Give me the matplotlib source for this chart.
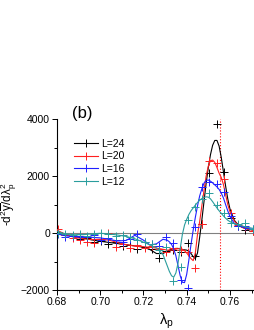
import numpy as np
import matplotlib
matplotlib.use('Agg')
import matplotlib.pyplot as plt
from matplotlib.ticker import MultipleLocator

plt.rcParams['font.family'] = ['Liberation Sans', 'DejaVu Sans']
plt.rcParams['mathtext.default'] = 'regular'

# smooth fitted curves
x_line = [0.680, 0.684, 0.688, 0.692, 0.696, 0.700, 0.704, 0.708, 0.712, 0.716,
          0.720, 0.723, 0.726, 0.729, 0.731, 0.732, 0.733, 0.734, 0.735, 0.736,
          0.737, 0.738, 0.739, 0.740, 0.741, 0.742, 0.743, 0.744, 0.745, 0.746,
          0.747, 0.748, 0.749, 0.750, 0.751, 0.752, 0.753, 0.754, 0.755, 0.756,
          0.757, 0.758, 0.759, 0.760, 0.762, 0.764, 0.766, 0.768, 0.771]
l24_line = [0, -60, -120, -180, -240, -290, -330, -370, -410, -450,
            -500, -580, -720, -720, -640, -600, -570, -550, -540, -540,
            -560, -580, -590, -600, -640, -720, -830, -900, -700, -150,
            450, 1100, 1750, 2300, 2750, 3080, 3250, 3250, 3050, 2650,
            2150, 1650, 1200, 850, 450, 270, 190, 140, 100]
l20_line = [100, -50, -150, -200, -230, -220, -250, -330, -410, -460,
            -480, -500, -530, -570, -600, -600, -600, -590, -570, -550,
            -550, -570, -620, -700, -800, -900, -970, -700, -50, 400,
            950, 1500, 2000, 2350, 2540, 2560, 2480, 2300, 2100, 1950,
            1700, 1350, 1000, 750, 420, 260, 190, 140, 90]
l16_line = [-30, -100, -130, -150, -150, -170, -220, -280, -260, -80,
            -250, -420, -380, -220, -250, -310, -400, -560, -800, -1150,
            -1500, -1730, -1740, -1450, -950, -400, 100, 550, 950, 1300,
            1550, 1750, 1850, 1860, 1820, 1760, 1690, 1620, 1530, 1400,
            1230, 1000, 780, 580, 340, 260, 200, 160, 130]
l12_line = [50, -30, -60, -60, -30, -10, -30, -70, -120, -200,
            -320, -420, -520, -750, -1150, -1350, -1500, -1550, -1400, -1050,
            -550, -50, 280, 480, 650, 780, 880, 980, 1070, 1150,
            1210, 1250, 1270, 1260, 1200, 1100, 990, 880, 780, 690,
            600, 520, 450, 400, 330, 280, 240, 200, 160]

# raw data points
x_pts = [0.6805, 0.6838, 0.6872, 0.6905, 0.6938, 0.6972, 0.7005, 0.7038, 0.7072, 0.7105,
         0.7138, 0.7172, 0.7205, 0.7238, 0.7272, 0.7305, 0.7338, 0.7372, 0.7405, 0.7438,
         0.7472, 0.7505, 0.7538, 0.7572, 0.7605, 0.7638, 0.7672, 0.7705]
l24_pts = [30, -80, -100, -200, -170, -300, -280, -380, -320, -450,
           -420, -550, -480, -560, -880, -620, -600, -650, -360, -800,
           300, 2100, 3820, 2150, 530, 250, 100, 80]
l20_pts = [150, -80, -180, -250, -330, -350, -200, 0, -480, -400,
           -520, -430, -520, -470, -560, -650, -540, -600, -680, -1240,
           300, 2540, 2470, 1900, 700, 280, 200, 60]
l16_pts = [-20, -150, -100, -120, -150, -80, -250, -180, -250, -300,
           -200, -50, -300, -400, -450, -150, -350, -1650, -1940, 200,
           1610, 1800, 1720, 1450, 600, 250, 230, 130]
l12_pts = [0, -50, -80, -30, -100, -50, 0, -50, -100, -80,
           -150, -250, -300, -380, -600, -500, -1700, -1200, 450, 920,
           1200, 1410, 980, 690, 340, 300, 360, 150]

labels = ['L=24', 'L=20', 'L=16', 'L=12']
colors = ['black', '#ff2020', '#2020ff', '#2a9d9d']
lines = [l24_line, l20_line, l16_line, l12_line]
pts = [l24_pts, l20_pts, l16_pts, l12_pts]
lam_c = 0.7554

fig = plt.figure(figsize=(2.55, 3.3), dpi=100)
ax = fig.add_axes([0.2235, 0.1212, 0.7765, 0.518])

ax.axhline(0, color='#808080', lw=0.8, zorder=1)
ax.axvline(lam_c, color='red', lw=0.8, ls=':', zorder=1)

for lab, c, yl, yp in zip(labels, colors, lines, pts):
    ax.plot(x_line, yl, color=c, lw=0.8, zorder=3)
    ax.plot(x_pts, yp, ls='none', marker='+', ms=6, mew=0.7, color=c, zorder=3)
    ax.plot([], [], color=c, lw=0.8, marker='+', ms=6, mew=0.7, label=lab)

ax.set_xlim(0.68, 0.7716)
ax.set_ylim(-2000, 4000)
ax.set_xticks([0.68, 0.70, 0.72, 0.74, 0.76])
ax.set_xticklabels(['0.68', '0.70', '0.72', '0.74', '0.76'])
ax.set_yticks([-2000, 0, 2000, 4000])
ax.xaxis.set_minor_locator(MultipleLocator(0.01))
ax.yaxis.set_minor_locator(MultipleLocator(1000))
ax.tick_params(which='major', direction='out', length=3.5, width=0.7, labelsize=7.5, pad=1.5)
ax.tick_params(which='minor', direction='out', length=2, width=0.7)
for s in ['top', 'right']:
    ax.spines[s].set_visible(False)
for s in ['left', 'bottom']:
    ax.spines[s].set_linewidth(0.8)

ax.set_ylabel(r'-d$^2\overline{y}$/d$\lambda_p^2$', fontsize=8.5)
ax.yaxis.set_label_coords(-0.19, 0.5)
ax.set_xlabel(r'$\lambda_p$', fontsize=10.5)
ax.xaxis.set_label_coords(0.555, -0.125)

ax.text(0.126, 1.035, '(b)', transform=ax.transAxes, fontsize=12,
        ha='center', va='center', clip_on=False)

ax.legend(loc='upper left', bbox_to_anchor=(0.085, 0.885), frameon=False,
          fontsize=7.5, handlelength=2.3, handletextpad=0.3, labelspacing=0.25,
          borderpad=0, borderaxespad=0)

fig.savefig('out.png', dpi=100)
